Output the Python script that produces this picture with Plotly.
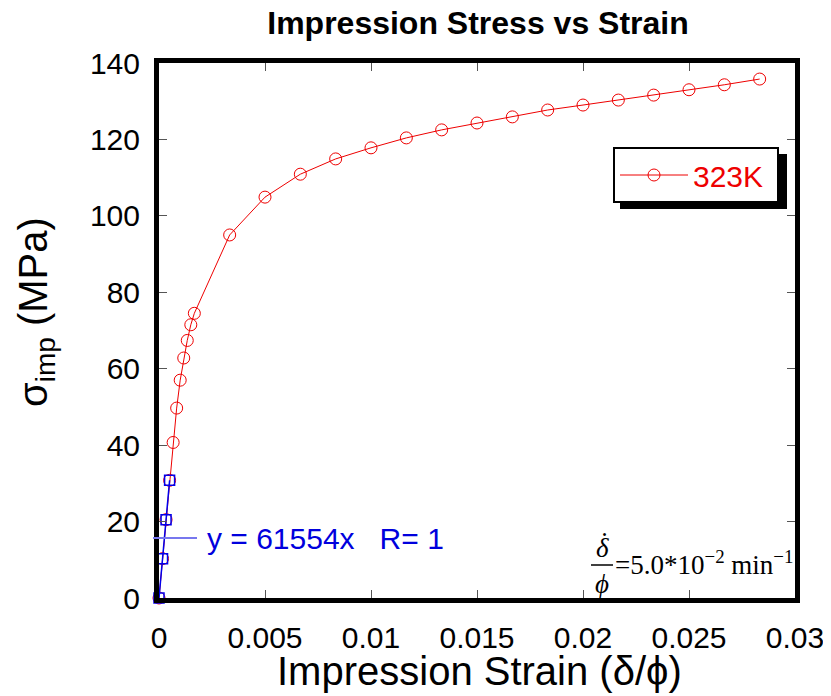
import plotly.graph_objects as go

# ---- data ----
strain = [0, 0.000167, 0.000333, 0.0005, 0.000667, 0.000833, 0.001, 0.001167,
          0.001333, 0.0015, 0.001667, 0.003333, 0.005, 0.006667, 0.008333, 0.01,
          0.011667, 0.013333, 0.015, 0.016667, 0.018333, 0.02, 0.021667,
          0.023333, 0.025, 0.026667, 0.028333]
stress = [0, 10.3, 20.5, 30.8, 40.7, 49.7, 57.0, 62.8, 67.4, 71.5, 74.5, 95.0,
          104.9, 110.9, 114.9, 117.8, 120.4, 122.5, 124.3, 125.9, 127.7, 129.0,
          130.3, 131.6, 133.0, 134.3, 135.8]
fit_strain = [0, 0.000167, 0.000333, 0.0005]
fit_stress = [0, 10.3, 20.5, 30.8]
series_name = "323K"
fit_label = "y = 61554x\u00a0\u00a0\u00a0R= 1"
x_ticks = [0, 0.005, 0.01, 0.015, 0.02, 0.025, 0.03]
x_ticklabels = ["0", "0.005", "0.01", "0.015", "0.02", "0.025", "0.03"]
y_ticks = [0, 20, 40, 60, 80, 100, 120, 140]

SANS = "Liberation Sans, Arial, sans-serif"
SERIF = "Liberation Serif, Times New Roman, serif"

# page body has an 8px default margin; figure is sized to fill the window
OFF = 8
W, H = 831 - OFF, 696 - OFF
L, R, T, B = 159 - OFF, 36, 63 - OFF, 98
PW, PH = W - L - R, H - T - B


def px(xs):
    """screen x (window pixels) -> paper fraction"""
    return (xs - OFF - L) / PW


def py(ys):
    """screen y (window pixels) -> paper fraction"""
    return (H - B - (ys - OFF)) / PH


fig = go.Figure()

fig.add_trace(go.Scatter(
    x=strain, y=stress, mode="lines+markers", name=series_name + "\u00a0",
    line=dict(color="#ee0000", width=1),
    marker=dict(symbol="circle-open", size=12, color="#ee0000", line=dict(width=1)),
    cliponaxis=False))

fig.add_trace(go.Scatter(
    x=fit_strain, y=fit_stress, mode="lines+markers", showlegend=False,
    line=dict(color="#0000ee", width=1.5),
    marker=dict(symbol="square-open", size=10, color="#0000ee", line=dict(width=1.5)),
    cliponaxis=False, hoverinfo="skip"))

axis_common = dict(
    showline=True, linewidth=5, linecolor="black", mirror="allticks",
    ticks="inside", ticklen=8, tickwidth=1, tickcolor="#555555",
    showgrid=False, zeroline=False, automargin=False,
    tickfont=dict(family=SANS, size=30, color="black"))

fig.update_xaxes(range=[0, 0.03], tickvals=x_ticks, ticktext=x_ticklabels,
                 ticklabelstandoff=9, **axis_common)
fig.update_yaxes(range=[0, 140], tickvals=y_ticks, ticklabelstandoff=8, **axis_common)

# legend shadow
fig.add_shape(type="rect", xref="paper", yref="paper",
              x0=px(620), x1=px(787), y0=py(209), y1=py(154),
              fillcolor="black", line=dict(width=0), layer="below")

fig.update_layout(
    width=W, height=H,
    margin=dict(l=L, r=R, t=T, b=B),
    paper_bgcolor="white", plot_bgcolor="white",
    title=dict(text="<b>Impression Stress vs Strain</b>", x=(478 - OFF) / W,
               xanchor="center", y=1 - 4 / H, yanchor="top", pad=dict(t=0),
               font=dict(family=SANS, size=32, color="black")),
    legend=dict(x=px(613), y=py(147), xanchor="left", yanchor="top",
                bgcolor="white", bordercolor="black", borderwidth=2, itemwidth=68,
                font=dict(family=SANS, size=30, color="#ee0000")),
    showlegend=True,
)

annotations = [
    dict(text="Impression Strain (\u03b4/\u03d5)", x=px(479), y=py(671),
         xanchor="center", yanchor="middle",
         font=dict(family=SANS, size=40, color="black")),
    dict(text="\u03c3<sub>imp</sub> (MPa)", x=px(36), y=py(312), textangle=-90,
         xanchor="center", yanchor="middle",
         font=dict(family=SANS, size=40, color="black")),
    dict(text=fit_label, x=px(205), y=py(538), xanchor="left", yanchor="middle",
         font=dict(family=SANS, size=30, color="#0000dd")),
    dict(text="<i>\u03b4</i>", x=px(602), y=py(548), xanchor="center", yanchor="middle",
         font=dict(family=SERIF, size=27, color="black")),
    dict(text="\u02d9", x=px(604), y=py(542), xanchor="center", yanchor="middle",
         font=dict(family=SERIF, size=27, color="black")),
    dict(text="<i>\u03d5</i>", x=px(602), y=py(584), xanchor="center", yanchor="middle",
         font=dict(family=SERIF, size=27, color="black")),
    dict(text="=5.0*10<sup>\u22122</sup> min<sup>\u22121</sup>", x=px(613), y=py(563),
         xanchor="left", yanchor="middle",
         font=dict(family=SERIF, size=27, color="black")),
]
for a in annotations:
    a.update(xref="paper", yref="paper", showarrow=False)
fig.update_layout(annotations=annotations)

fig.add_shape(type="line", xref="paper", yref="paper",
              x0=px(153), x1=px(197), y0=py(538), y1=py(538),
              line=dict(color="#7777ee", width=2))
fig.add_shape(type="line", xref="paper", yref="paper",
              x0=px(591), x1=px(613), y0=py(565), y1=py(565),
              line=dict(color="black", width=1.5))

fig.write_html("out.html")
